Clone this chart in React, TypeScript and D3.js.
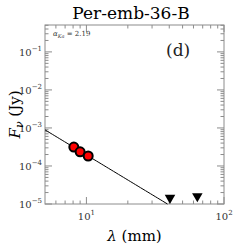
import React from "react";
import * as d3 from "d3";

const title = "Per-emb-36-B";
const detLambda = [8.1, 9.0, 10.3];
const detFlux = [3.15e-4, 2.35e-4, 1.83e-4];
const limLambda = [40.5, 64];
const limFlux = [1.45e-5, 1.6e-5];
const fitAlpha = 2.19;
const fitRefLambda = 10.3;
const fitRefFlux = 1.83e-4;
const yTickExps = [-5, -4, -3, -2, -1];
const xTickExps = [1, 2];

const W = 249, H = 249;
const M = { left: 45, right: 224, top: 25, bottom: 204 };
const AX = "#8c8c8c";
const FONT = "'DejaVu Serif', 'Liberation Serif', serif";

export default function App() {
  const x = d3.scaleLog().domain([5, 100]).range([M.left, M.right]);
  const y = d3.scaleLog().domain([1e-5, 0.51]).range([M.bottom, M.top]);

  const xMinor: number[] = [];
  for (let d = 1; d <= 100; d *= 10)
    for (let k = 2; k <= 9; k++) {
      const v = k * d;
      if (v > 5 && v < 100 && v !== 10) xMinor.push(v);
    }
  const yMinor: number[] = [];
  for (let e = -5; e <= -1; e++)
    for (let k = 2; k <= 9; k++) {
      const v = k * Math.pow(10, e);
      if (v < 0.51) yMinor.push(v);
    }

  const fit = (l: number) => fitRefFlux * Math.pow(l / fitRefLambda, -fitAlpha);
  const lEnd = fitRefLambda * Math.pow(1e-5 / fitRefFlux, -1 / fitAlpha);
  const fitPts: [number, number][] = d3.range(0, 51).map((i) => {
    const l = 5 * Math.pow(lEnd / 5, i / 50);
    return [l, fit(l)];
  });
  const line = d3.line<[number, number]>().x((d) => x(d[0])).y((d) => y(d[1]));

  const tri = d3.symbol().type(d3.symbolTriangle).size(48)();

  return (
    <svg width={W} height={H} style={{ position: "absolute", left: 0, top: 0 }} fontFamily={FONT}>
      <rect x={0} y={0} width={W} height={H} fill="white" />
      <text x={131} y={19} textAnchor="middle" fontSize={17}>{title}</text>
      {/* frame */}
      <rect x={M.left} y={M.top} width={M.right - M.left} height={M.bottom - M.top} fill="none" stroke={AX} strokeWidth={1} />
      {/* x ticks */}
      {xTickExps.map((e) => {
        const v = Math.pow(10, e);
        const px = x(v);
        return (
          <g key={"xt" + e}>
            <line x1={px} x2={px} y1={M.bottom} y2={M.bottom - 7} stroke={AX} />
            <line x1={px} x2={px} y1={M.top} y2={M.top + 7} stroke={AX} />
            <text x={px} y={M.bottom + 16} textAnchor="middle" fontSize={10} fill="#333">
              10<tspan dy={-5} fontSize={7}>{e}</tspan>
            </text>
          </g>
        );
      })}
      {xMinor.map((v) => (
        <g key={"xm" + v}>
          <line x1={x(v)} x2={x(v)} y1={M.bottom} y2={M.bottom - 3.5} stroke={AX} />
          <line x1={x(v)} x2={x(v)} y1={M.top} y2={M.top + 3.5} stroke={AX} />
        </g>
      ))}
      {/* y ticks */}
      {yTickExps.map((e) => {
        const v = Math.pow(10, e);
        const py = y(v);
        return (
          <g key={"yt" + e}>
            <line x1={M.left} x2={M.left + 7} y1={py} y2={py} stroke={AX} />
            <line x1={M.right} x2={M.right - 7} y1={py} y2={py} stroke={AX} />
            <text x={M.left - 3} y={py + 4} textAnchor="end" fontSize={10} fill="#333">
              10<tspan dy={-5} fontSize={7}>{"\u2212" + Math.abs(e)}</tspan>
            </text>
          </g>
        );
      })}
      {yMinor.map((v) => (
        <g key={"ym" + v}>
          <line x1={M.left} x2={M.left + 3.5} y1={y(v)} y2={y(v)} stroke={AX} />
          <line x1={M.right} x2={M.right - 3.5} y1={y(v)} y2={y(v)} stroke={AX} />
        </g>
      ))}
      {/* fit line */}
      <path d={line(fitPts) || ""} fill="none" stroke="black" strokeWidth={1} />
      {/* detections */}
      {detLambda.map((l, i) => (
        <circle key={"c" + i} cx={x(l)} cy={y(detFlux[i])} r={4.5} fill="#ff0000" stroke="black" strokeWidth={2} />
      ))}
      {/* upper limits */}
      {limLambda.map((l, i) => (
        <path key={"t" + i} d={tri || ""} transform={`translate(${x(l)},${y(limFlux[i])}) rotate(180)`} fill="black" />
      ))}
      {/* annotations */}
      <text x={53} y={36} fontSize={7} fontStyle="italic" fill="#333">
        α<tspan dy={2} fontSize={5}>Ka</tspan><tspan dy={-2} fontStyle="normal"> = {fitAlpha.toFixed(2)}</tspan>
      </text>
      <text x={166} y={56} fontSize={17} fill="#222">(d)</text>
      {/* axis labels */}
      <text x={(M.left + M.right) / 2} y={241} textAnchor="middle" fontSize={15}>
        <tspan fontStyle="italic">λ</tspan> (mm)
      </text>
      <text transform={`translate(20,${(M.top + M.bottom) / 2}) rotate(-90)`} textAnchor="middle" fontSize={15}>
        <tspan fontStyle="italic">F</tspan><tspan fontStyle="italic" dy={3} fontSize={11}>ν</tspan><tspan dy={-3}> (Jy)</tspan>
      </text>
    </svg>
  );
}
